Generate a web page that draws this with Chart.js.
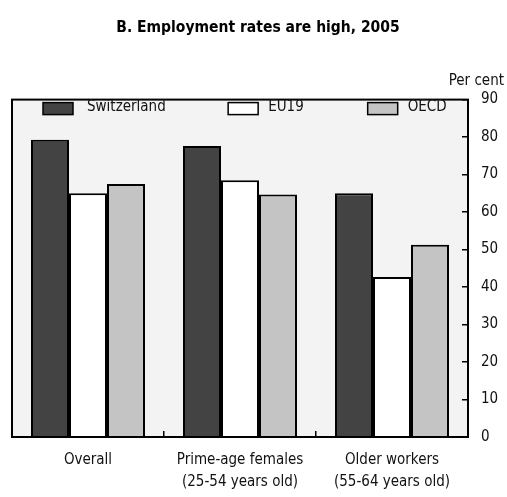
<!DOCTYPE html>
<html>
<head>
<meta charset="utf-8">
<script src="https://cdn.jsdelivr.net/npm/chart.js@4.4.0/dist/chart.umd.min.js"></script>
<style>
  html, body { margin: 0; padding: 0; background: #fff; }
</style>
</head>
<body>
<canvas id="chart" width="507" height="497"></canvas>
<script>
// Datos (tasas de empleo, 2005, en %)
const categorias = ['Overall', ['Prime-age females', '(25-54 years old)'], ['Older workers', '(55-64 years old)']];
const series = ['Switzerland', 'EU19', 'OECD'];
const suiza = [79.3, 77.6, 65.0];
const eu19 = [65.0, 68.5, 42.7];
const ocde = [67.5, 64.7, 51.3];
const yMin = 0, yMax = 90, yPaso = 10;

const fuente = "'Liberation Sans Narrow', 'DejaVu Sans Condensed', 'Roboto', sans-serif";

// Fondo y marco del área del gráfico, más la leyenda dentro del marco
const marcoPlugin = {
    id: 'marco',
    beforeDraw(chart) {
        const { ctx, chartArea: a } = chart;
        ctx.save();
        ctx.fillStyle = '#f3f3f3';
        ctx.fillRect(a.left, a.top, a.right - a.left, a.bottom - a.top);
        ctx.restore();
    },
    afterDatasetsDraw(chart) {
        const { ctx, chartArea: a } = chart;
        ctx.save();
        ctx.strokeStyle = '#000';
        ctx.lineWidth = 2;
        ctx.strokeRect(a.left, a.top, a.right - a.left, a.bottom - a.top);

        // leyenda
        const items = Chart.defaults.plugins.legend.labels.generateLabels(chart);
        const w = a.right - a.left;
        const posiciones = [0.068, 0.474, 0.78];
        const separacion = [44, 40, 40];
        ctx.font = '15px ' + fuente;
        ctx.textBaseline = 'middle';
        items.forEach((item, i) => {
            const x = a.left + w * posiciones[i];
            const y = a.top + 3;
            ctx.fillStyle = item.fillStyle;
            ctx.fillRect(x, y, 30, 12);
            ctx.lineWidth = 1.5;
            ctx.strokeStyle = '#000';
            ctx.strokeRect(x, y, 30, 12);
            ctx.fillStyle = '#111';
            ctx.fillText(item.text, x + separacion[i], y + 5);
        });
        ctx.restore();
    }
};

const ctx = document.getElementById('chart').getContext('2d');
new Chart(ctx, {
    type: 'bar',
    data: {
        labels: categorias,
        datasets: [
            { label: series[0], data: suiza, backgroundColor: '#434343', borderColor: '#000', borderWidth: 2 },
            { label: series[1], data: eu19, backgroundColor: '#ffffff', borderColor: '#000', borderWidth: 2 },
            { label: series[2], data: ocde, backgroundColor: '#c4c4c4', borderColor: '#000', borderWidth: 2 }
        ]
    },
    options: {
        responsive: false,
        animation: false,
        layout: { padding: { left: 12, right: 3, bottom: 2 } },
        datasets: {
            bar: { categoryPercentage: 0.75, barPercentage: 1.0 }
        },
        plugins: {
            legend: { display: false },
            tooltip: { enabled: false },
            title: {
                display: true,
                text: 'B. Employment rates are high, 2005',
                color: '#000',
                font: { family: fuente, size: 15.5, weight: 'bold' },
                padding: { top: 19, bottom: 35 }
            },
            subtitle: {
                display: true,
                text: 'Per cent',
                align: 'end',
                color: '#111',
                font: { family: fuente, size: 15 },
                padding: { top: 0, bottom: 9 }
            }
        },
        scales: {
            x: {
                afterFit(scale) { scale.height = 58; },
                grid: { display: true, drawOnChartArea: false, tickLength: -6, color: '#000', lineWidth: 1.5, offset: true },
                border: { display: false },
                ticks: { color: '#111', font: { family: fuente, size: 15, lineHeight: 1.45 }, padding: 18, maxRotation: 0 }
            },
            y: {
                position: 'right',
                min: yMin,
                max: yMax,
                afterFit(scale) { scale.width = 36; },
                grid: { drawOnChartArea: false, tickLength: -6, color: '#000', lineWidth: 1.5 },
                border: { display: false },
                ticks: { stepSize: yPaso, color: '#111', font: { family: fuente, size: 15 }, padding: 19 }
            }
        }
    },
    plugins: [marcoPlugin]
});
</script>
</body>
</html>
